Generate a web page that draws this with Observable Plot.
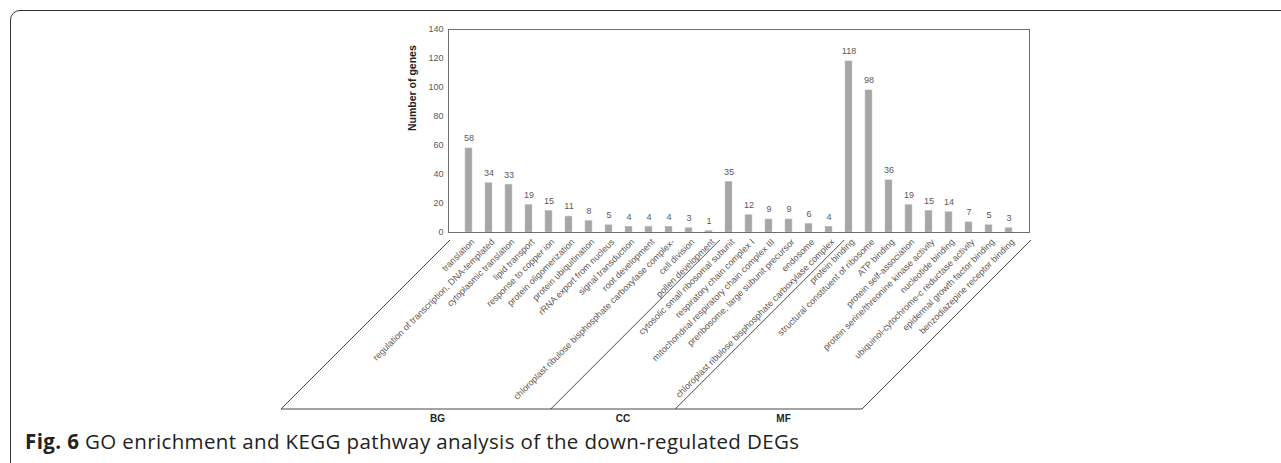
<!DOCTYPE html>
<html>
<head>
<meta charset="utf-8">
<script src="https://cdn.jsdelivr.net/npm/d3@7"></script>
<script src="https://cdn.jsdelivr.net/npm/@observablehq/plot@0.6"></script>
<style>
  html, body { margin: 0; padding: 0; background: #fff; overflow: hidden; }
  #wrap { position: relative; width: 1281px; height: 463px; overflow: hidden; }
  #chart { position: absolute; left: 0; top: 0; }
  #border { position: absolute; left: 10px; top: 10px; width: 1320px; height: 520px;
            border: 1.5px solid #333; border-radius: 10px; box-sizing: border-box; pointer-events: none; }
  #caption { position: absolute; left: 25px; top: 431px; font-family: "Open Sans", sans-serif;
             font-size: 20.5px; letter-spacing: 0.38px; line-height: 20px; color: #222; white-space: nowrap; }
  #caption b { font-weight: 700; }
</style>
</head>
<body>
<div id="wrap">
  <div id="chart"></div>
  <div id="border"></div>
  <div id="caption"><b>Fig. 6</b> GO enrichment and KEGG pathway analysis of the down-regulated DEGs</div>
</div>
<script>
const categories = [
  "translation",
  "regulation of transcription, DNA-templated",
  "cytoplasmic translation",
  "lipid transport",
  "response to copper ion",
  "protein oligomerization",
  "protein ubiquitination",
  "rRNA export from nucleus",
  "signal transduction",
  "root development",
  "chloroplast ribulose bisphosphate carboxylase complex-",
  "cell division",
  "pollen development",
  "cytosolic small ribosomal subunit",
  "respiratory chain complex I",
  "mitochondrial respiratory chain complex III",
  "preribosome, large subunit precursor",
  "endosome",
  "chloroplast ribulose bisphosphate carboxylase complex",
  "protein binding",
  "structural constituent of ribosome",
  "ATP binding",
  "protein self-association",
  "protein serine/threonine kinase activity",
  "nucleotide binding",
  "ubiquinol-cytochrome-c reductase activity",
  "epidermal growth factor binding",
  "benzodiazepine receptor binding"
];
const counts = [58, 34, 33, 19, 15, 11, 8, 5, 4, 4, 4, 3, 1,
                35, 12, 9, 9, 6, 4,
                118, 98, 36, 19, 15, 14, 7, 5, 3];
const groupNames = ["BG", "CC", "MF"];
const groupSizes = [13, 6, 9];
const yTicks = [0, 20, 40, 60, 80, 100, 120, 140];
const yLabel = "Number of genes";

const data = categories.map((c, i) => ({i, name: c, value: counts[i]}));

const bounds = [0];
groupSizes.forEach(s => bounds.push(bounds[bounds.length - 1] + s));

const W = 1281, H = 430, ML = 448, MR = 252, MT = 29, MB = 198;

function groupDecor(index, scales, values, dims) {
  const n = categories.length;
  const step = (dims.width - dims.marginLeft - dims.marginRight) / n;
  const y0 = scales.y(0);
  const bx = i => dims.marginLeft + i * step + 2;
  const topY = y0 + 8, botY = y0 + 177, shift = botY - topY;
  const g = d3.create("svg:g");
  bounds.forEach(b => {
    g.append("line")
      .attr("x1", bx(b)).attr("y1", topY)
      .attr("x2", bx(b) - shift).attr("y2", botY)
      .attr("stroke", "#333").attr("stroke-width", 0.9);
  });
  g.append("line")
    .attr("x1", bx(bounds[0]) - shift).attr("y1", botY)
    .attr("x2", bx(bounds[bounds.length - 1]) - shift).attr("y2", botY)
    .attr("stroke", "#333").attr("stroke-width", 0.9);
  groupNames.forEach((name, k) => {
    const a = bx(bounds[k]) - shift, b = bx(bounds[k + 1]) - shift;
    const mid = (a + b) / 2 + (b - a) * 0.08;
    g.append("text")
      .attr("x", mid).attr("y", botY + 9)
      .attr("dy", "0.35em")
      .attr("text-anchor", "middle")
      .attr("font-family", "Liberation Sans, Arial, sans-serif")
      .attr("font-size", 10).attr("font-weight", "bold").attr("fill", "#222")
      .text(name);
  });
  return g.node();
}

const chart = Plot.plot({
  width: W, height: H,
  marginLeft: ML, marginRight: MR, marginTop: MT, marginBottom: MB,
  style: {fontFamily: "Liberation Sans, Arial, sans-serif", background: "transparent"},
  x: {type: "band", domain: d3.range(categories.length), paddingInner: 0.66, paddingOuter: 0.33, axis: null},
  y: {domain: [0, 140], axis: null},
  marks: [
    Plot.barY(data, {x: "i", y: "value", fill: "#a6a6a6", stroke: "#c8c8c8", strokeWidth: 0.5}),
    Plot.text(data, {x: "i", y: "value", text: d => String(d.value), dy: -10, fontSize: 9, fill: "#595959"}),
    Plot.axisY({ticks: yTicks, tickSize: 0, tickPadding: 5, fontSize: 9, color: "#595959", label: null}),
    Plot.axisX({tickFormat: i => categories[i], tickRotate: -45, tickSize: 0, tickPadding: 8, dx: 4,
                fontSize: 9, color: "#595959", label: null}),
    Plot.frame({stroke: "#6e6e6e", strokeWidth: 1}),
    Plot.text([yLabel], {frameAnchor: "left", dx: -36, rotate: -90, fontSize: 10.5, fontWeight: "bold", fill: "#222", text: d => d}),
    groupDecor
  ]
});
document.getElementById("chart").appendChild(chart);
</script>
</body>
</html>
